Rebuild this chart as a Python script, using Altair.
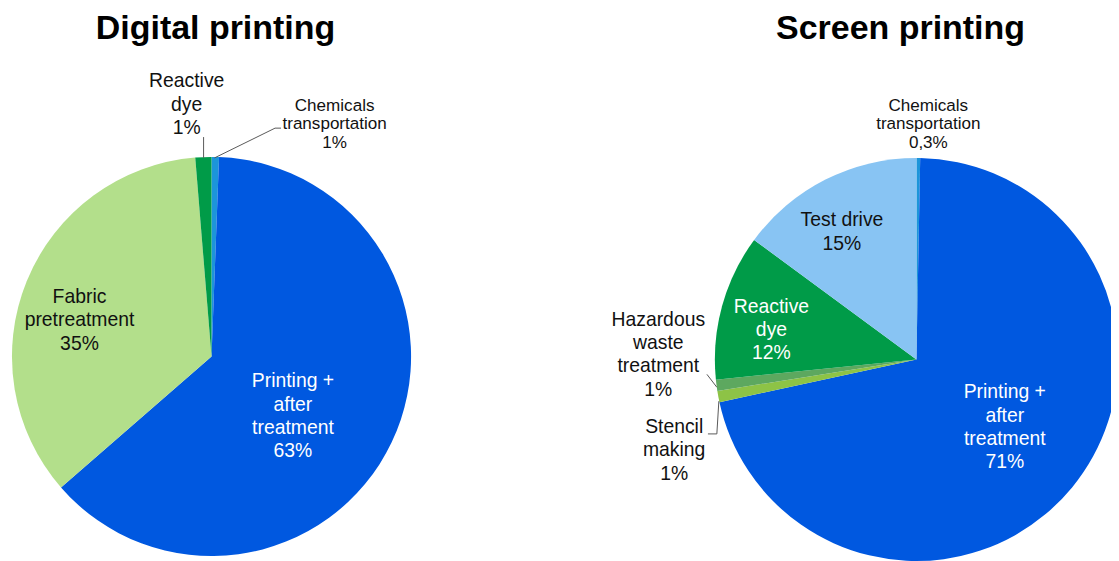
import altair as alt
import pandas as pd

# ---------------- data ----------------
digital_categories = ["Chemicals transportation", "Printing + after treatment",
                      "Fabric pretreatment", "Reactive dye"]
digital_values = [0.6, 63.0, 35.1, 1.3]
digital_pct = ["1%", "63%", "35%", "1%"]

screen_categories = ["Chemicals transportation", "Printing + after treatment",
                     "Stencil making", "Hazardous waste treatment",
                     "Reactive dye", "Test drive"]
screen_values = [0.3, 71.3, 0.9, 0.9, 11.7, 14.9]
screen_pct = ["0,3%", "71%", "1%", "1%", "12%", "15%"]

titles = ["Digital printing", "Screen printing"]

# ---------------- styles / layout ----------------
slice_colors = {
    "Chemicals transportation": "#1C95DA",
    "Printing + after treatment": "#0058E0",
    "Fabric pretreatment": "#B3DF8B",
    "Reactive dye": "#009B48",
    "Stencil making": "#8DC346",
    "Hazardous waste treatment": "#5DA85F",
    "Test drive": "#88C4F3",
}
label_lines = {
    "Chemicals transportation": "Chemicals\ntransportation",
    "Printing + after treatment": "Printing  +\nafter\ntreatment",
    "Fabric pretreatment": "Fabric\npretreatment",
    "Reactive dye": "Reactive\ndye",
    "Stencil making": "Stencil\nmaking",
    "Hazardous waste treatment": "Hazardous\nwaste\ntreatment",
    "Test drive": "Test drive",
}
OFF = 8  # page margin
pie_centers = [(213 - OFF, 357 - OFF), (923 - OFF, 360 - OFF)]
pie_radii = [201, 203]
title_pos = [(217 - OFF, 27 - OFF), (907 - OFF, 27 - OFF)]

# label anchor (centre x, first-line y) per slice, and style
digital_label_pos = [(337, 105), (295, 382), (80, 297), (188, 80)]
digital_label_small = [True, False, False, False]
digital_label_white = [False, True, False, False]
screen_label_pos = [(935, 105), (1012, 393), (679, 428), (663, 320),
                    (777, 307), (848, 220)]
screen_label_small = [True, False, False, False, False, False]
screen_label_white = [False, True, False, False, True, False]

leaders = [  # x, y, x2, y2 in page pixels
    (205, 136, 205, 157),
    (283, 127, 277, 127),
    (277, 127, 216, 157),
    (712, 375, 722, 388),
    (713, 435, 722, 435),
    (722, 435, 724, 402),
]

FONT = "Liberation Sans"


def pie_df(cats, vals):
    return pd.DataFrame({
        "category": cats,
        "value": vals,
        "idx": list(range(len(cats))),
        "color": [slice_colors[c] for c in cats],
    })


def pie_layer(df, center, radius):
    return alt.Chart(df).mark_arc(radius=radius).encode(
        theta=alt.Theta("value:Q", stack=True),
        order=alt.Order("idx:Q"),
        color=alt.Color("color:N", scale=None, legend=None),
        x=alt.value(center[0]),
        y=alt.value(center[1]),
    )


rows = []
for cats, pct, pos, small, white in [
    (digital_categories, digital_pct, digital_label_pos, digital_label_small, digital_label_white),
    (screen_categories, screen_pct, screen_label_pos, screen_label_small, screen_label_white),
]:
    for c, p, (lx, ly), s, w in zip(cats, pct, pos, small, white):
        rows.append({
            "text": label_lines[c] + "\n" + p,
            "lx": lx - OFF, "ly": ly - OFF,
            "small": s,
            "tcolor": "#FFFFFF" if w else "#111111",
        })
labels = pd.DataFrame(rows)

big_labels = alt.Chart(labels[~labels["small"]]).mark_text(
    font=FONT, fontSize=19.5, lineHeight=23.5, align="center", baseline="middle",
    lineBreak="\n"
).encode(
    x=alt.X("lx:Q", scale=None, axis=None),
    y=alt.Y("ly:Q", scale=None, axis=None),
    text="text:N",
    color=alt.Color("tcolor:N", scale=None, legend=None),
)
small_labels = alt.Chart(labels[labels["small"]]).mark_text(
    font=FONT, fontSize=17.2, lineHeight=18.3, align="center", baseline="middle",
    lineBreak="\n"
).encode(
    x=alt.X("lx:Q", scale=None, axis=None),
    y=alt.Y("ly:Q", scale=None, axis=None),
    text="text:N",
    color=alt.Color("tcolor:N", scale=None, legend=None),
)

title_df = pd.DataFrame({
    "title": titles,
    "tx": [p[0] for p in title_pos],
    "ty": [p[1] for p in title_pos],
})
title_layer = alt.Chart(title_df).mark_text(
    font=FONT, fontSize=34.2, fontWeight="bold", align="center", baseline="middle",
    color="#000000"
).encode(
    x=alt.X("tx:Q", scale=None, axis=None),
    y=alt.Y("ty:Q", scale=None, axis=None),
    text="title:N",
)

lead_df = pd.DataFrame(leaders, columns=["x", "y", "x2", "y2"]) - OFF
lead_layer = alt.Chart(lead_df).mark_rule(color="#595959", strokeWidth=1).encode(
    x=alt.X("x:Q", scale=None, axis=None),
    y=alt.Y("y:Q", scale=None, axis=None),
    x2="x2:Q",
    y2="y2:Q",
)

chart = alt.layer(
    pie_layer(pie_df(digital_categories, digital_values), pie_centers[0], pie_radii[0]),
    pie_layer(pie_df(screen_categories, screen_values), pie_centers[1], pie_radii[1]),
    lead_layer,
    big_labels,
    small_labels,
    title_layer,
).resolve_scale(
    theta="independent"
).properties(
    width=1111, height=553, padding=0, autosize=alt.AutoSizeParams(type="none"),
    background="#FFFFFF"
).configure_view(stroke=None)

chart.save("out.html", embed_options={"renderer": "svg", "actions": False})
